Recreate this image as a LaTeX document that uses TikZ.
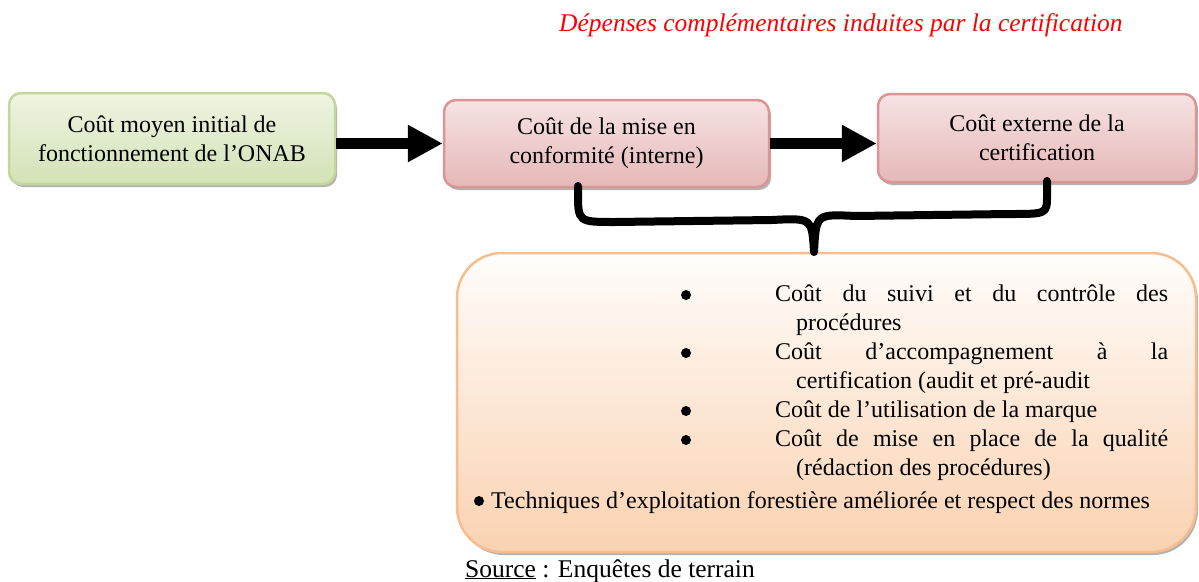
\documentclass[tikz,border=0pt]{standalone}
\usepackage{fontspec}
\setmainfont{Liberation Serif}
\usetikzlibrary{arrows.meta}
\definecolor{gtop}{HTML}{EEF4E2}
\definecolor{gbot}{HTML}{D3E2B6}
\definecolor{gline}{HTML}{C3D69B}
\definecolor{ptop}{HTML}{F6E3E3}
\definecolor{pbot}{HTML}{E5B8B7}
\definecolor{pline}{HTML}{D99694}
\definecolor{otop}{HTML}{FFFDFB}
\definecolor{obot}{HTML}{FAD2B1}
\definecolor{oline}{HTML}{F9BD8D}
\definecolor{titlered}{HTML}{FF0000}
\begin{document}
\begin{tikzpicture}[x=1pt,y=-1pt,
  txt/.style={font=\fontsize{24}{29}\selectfont, inner sep=0pt},
  box/.style={txt, rounded corners=12pt, line width=2.5pt, align=center,
    preaction={fill=black!30, transform canvas={xshift=2pt,yshift=-3pt}}},
  greenbox/.style={box, draw=gline, top color=gtop, bottom color=gbot},
  pinkbox/.style={box, draw=pline, top color=ptop, bottom color=pbot},
  orangebox/.style={box, rounded corners=45pt, draw=oline, top color=otop, bottom color=obot},
  bigarrow/.style={-{Triangle[length=35pt,width=35pt]}, line width=11.5pt},
  brace/.style={line width=8pt, line join=round, line cap=round},
  item/.style={txt, anchor=base west},
  bul/.style={circle, fill=black, inner sep=0pt, minimum size=10pt},
]
\useasboundingbox (0,0) rectangle (1199,581);

\node[txt, anchor=base west, text=titlered, font=\fontsize{25.5}{29}\selectfont\itshape] (title) at (559,31) {Dépenses complémentaires induites par la certification};

\node[greenbox, minimum width=326pt, minimum height=91pt] (g) at (172,138.5) {Coût moyen initial de\\fonctionnement de l’ONAB};
\node[pinkbox, minimum width=325pt, minimum height=87pt] (p) at (606.5,143.5) {Coût de la mise en\\conformité (interne)};
\node[pinkbox, minimum width=318pt, minimum height=88pt] (e) at (1037,138) {Coût externe de la\\certification};

\node[orangebox, minimum width=739pt, minimum height=299pt] (o) at (826.5,402.5) {};

\draw[bigarrow] (g.east |- p.west) -- (p.west);
\draw[bigarrow] (p.east) -- (p.east -| e.west);

\coordinate (bl) at (578,186);
\coordinate (br) at (1047,181);
\coordinate (tip) at (814,252);
\draw[brace] (bl) -- (578,192) .. controls (578,222) .. (615,222) -- (772,220)
  .. controls (812,218) .. (tip) .. controls (816,214) .. (855,216) -- (1010,214)
  .. controls (1047,214) .. (1047,195) -- (br);

\node[bul] (b1) at (686,295) {};
\node[bul] (b2) at (686,353) {};
\node[bul] (b3) at (686,411) {};
\node[bul] (b4) at (686,440) {};
\node[item] (l1) at (775,301) {\makebox[393pt][s]{Coût du suivi et du contrôle des}};
\node[item] (l2) at (796,330) {procédures};
\node[item] (l3) at (775,359) {\makebox[393pt][s]{Coût d’accompagnement à la}};
\node[item] (l4) at (796,388) {certification (audit et pré-audit};
\node[item] (l5) at (775,417) {Coût de l’utilisation de la marque};
\node[item] (l6) at (775,446) {\makebox[393pt][s]{Coût de mise en place de la qualité}};
\node[item] (l7) at (796,475) {(rédaction des procédures)};
\node[bul] (b5) at (479,501) {};
\node[item] (l8) at (491,508) {Techniques d’exploitation forestière améliorée et respect des normes};

\node[item, font=\fontsize{25.5}{29}\selectfont] (src) at (465,577) {\underline{Source} : Enquêtes de terrain};
\end{tikzpicture}
\end{document}
